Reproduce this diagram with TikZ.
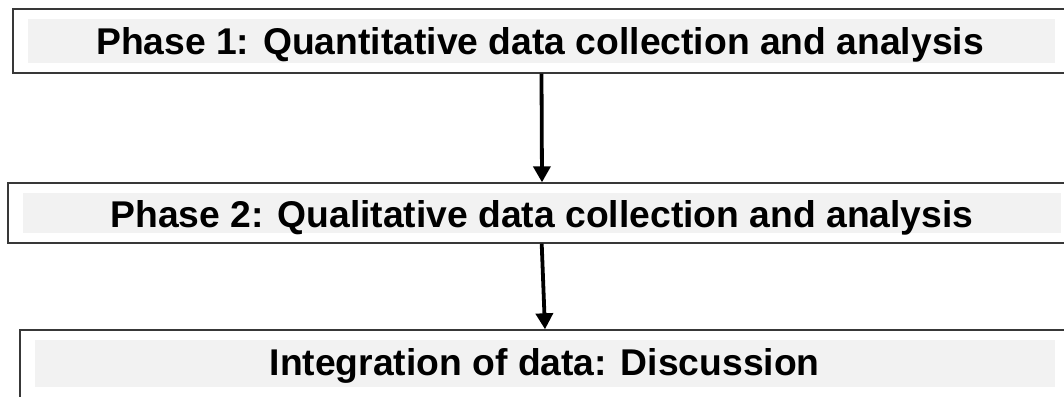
\documentclass[tikz,border=0pt]{standalone}
\usepackage{fontspec}
\setmainfont{Liberation Sans}
\usetikzlibrary{arrows.meta}
\begin{document}
\begin{tikzpicture}[x=1bp,y=-1bp,
  outerbox/.style={draw=black!78,line width=1.4bp,fill=white,inner sep=0pt,rectangle},
  innerbox/.style={fill=black!5,draw=none,inner sep=0pt,rectangle},
  label/.style={anchor=base,inner sep=0pt,font=\fontsize{37.4}{40}\selectfont\bfseries},
  flow/.style={line width=3.8bp,-{Triangle[width=17bp,length=16bp]}}]
\clip (0,0) rectangle (1064,396);
% outer frames (their right edges run past the page)
\node[outerbox,minimum width=1057bp,minimum height=64bp] (b1) at (541.5,41) {};
\node[outerbox,minimum width=1062bp,minimum height=60bp] (b2) at (539,213) {};
\node[outerbox,minimum width=1050bp,minimum height=72bp] (b3) at (545,366) {};
% shaded bands
\node[innerbox,minimum width=1027bp,minimum height=44bp] (g1) at (541.5,41) {};
\node[innerbox,minimum width=1038bp,minimum height=40bp] (g2) at (542,213) {};
\node[innerbox,minimum width=1020bp,minimum height=47bp] (g3) at (545,363.5) {};
% titles
\node[label] (t1) at (540,54.5) {Phase 1: Quantitative data collection and analysis};
\node[label] (t2) at (542,227.5) {Phase 2: Qualitative data collection and analysis};
\node[label] (t3) at (544.7,375.7) {Integration of data: Discussion};
% connectors
\draw[flow] (b1.south) -- ([xshift=3bp]b2.north);
\draw[flow] ([xshift=2.7bp]b2.south) -- (b3.north);
\end{tikzpicture}
\end{document}
